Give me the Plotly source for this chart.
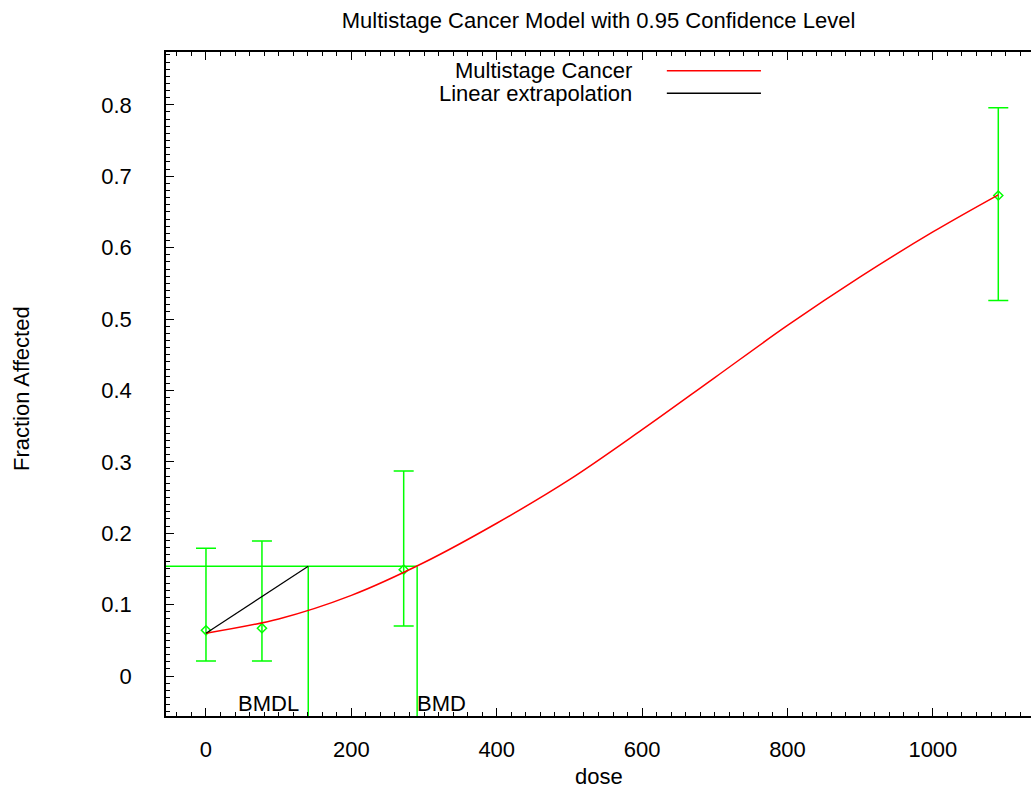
import plotly.graph_objects as go

# ---- data ----
dose_obs = [0, 77, 272, 1090]
frac_obs = [0.064, 0.067, 0.149, 0.673]
ci_lower = [0.021, 0.021, 0.070, 0.526]
ci_upper = [0.179, 0.189, 0.287, 0.796]

model_dose = [0, 100, 200, 300, 400, 500, 600, 700, 800, 900, 1000, 1090]
model_frac = [0.060, 0.080, 0.113, 0.159, 0.214, 0.275, 0.345, 0.418, 0.491, 0.559, 0.622, 0.674]

bmd = 290.5
bmdl = 140.7
bmr_level = 0.1536

x_range = [-55, 1135]
y_range = [-0.056, 0.874]

y_ticks = [0, 0.1, 0.2, 0.3, 0.4, 0.5, 0.6, 0.7, 0.8]
y_tick_text = ["0", "0.1", "0.2", "0.3", "0.4", "0.5", "0.6", "0.7", "0.8"]
x_ticks = [0, 200, 400, 600, 800, 1000]

GREEN = "#00ff00"
FONT = "Liberation Sans, Arial, sans-serif"
FS = 22

fig = go.Figure()

# BMD / BMDL guide lines
fig.add_trace(go.Scatter(x=[x_range[0], bmd], y=[bmr_level, bmr_level], mode="lines",
                         line=dict(color=GREEN, width=1.5), showlegend=False, hoverinfo="skip"))
fig.add_trace(go.Scatter(x=[bmdl, bmdl], y=[bmr_level, y_range[0]], mode="lines",
                         line=dict(color=GREEN, width=1.5), showlegend=False, hoverinfo="skip"))
fig.add_trace(go.Scatter(x=[bmd, bmd], y=[bmr_level, y_range[0]], mode="lines",
                         line=dict(color=GREEN, width=1.5), showlegend=False, hoverinfo="skip"))

# observed data with confidence intervals
fig.add_trace(go.Scatter(
    x=dose_obs, y=frac_obs, mode="markers",
    marker=dict(symbol="diamond-open", size=7, color=GREEN, line=dict(width=1.5, color=GREEN)),
    error_y=dict(type="data", symmetric=False,
                 array=[u - f for u, f in zip(ci_upper, frac_obs)],
                 arrayminus=[f - l for l, f in zip(ci_lower, frac_obs)],
                 color=GREEN, thickness=1.5, width=10),
    showlegend=False))

# model curve
fig.add_trace(go.Scatter(x=model_dose, y=model_frac, mode="lines",
                         line=dict(color="#ff0000", width=1.5, shape="spline", smoothing=1.0),
                         showlegend=False))

# linear extrapolation
fig.add_trace(go.Scatter(x=[model_dose[0], bmdl], y=[model_frac[0], bmr_level], mode="lines",
                         line=dict(color="#000000", width=1.2), showlegend=False))

# BMD labels
fig.add_annotation(x=bmdl, y=-0.039, text="BMDL", showarrow=False, xanchor="right",
                   xshift=-7, font=dict(family=FONT, size=FS, color="black"))
fig.add_annotation(x=bmd, y=-0.039, text="BMD", showarrow=False, xanchor="left",
                   xshift=-2, font=dict(family=FONT, size=FS, color="black"))

# legend (text then sample line, gnuplot style)
legend_items = [("Multistage Cancer", "#ff0000", 0.9718), ("Linear extrapolation", "#000000", 0.9378)]
for label, col, yp in legend_items:
    fig.add_annotation(xref="paper", yref="paper", x=0.541, y=yp, text=label, showarrow=False,
                       xanchor="right", yanchor="middle", font=dict(family=FONT, size=FS, color="black"))
    fig.add_shape(type="line", xref="paper", yref="paper", x0=0.579, x1=0.6878, y0=yp, y1=yp,
                  line=dict(color=col, width=1.5))

# axis titles
fig.add_annotation(xref="paper", yref="paper", x=0.5, y=0, yshift=-60, text="dose", showarrow=False,
                   xanchor="center", yanchor="middle", font=dict(family=FONT, size=FS, color="black"))
fig.add_annotation(xref="paper", yref="paper", x=0, xshift=-145, y=0.5, yshift=-5, text="Fraction Affected",
                   showarrow=False, textangle=-90, xanchor="center", yanchor="middle",
                   font=dict(family=FONT, size=FS, color="black"))

fig.update_layout(
    width=1031, height=788,
    margin=dict(l=166, r=0, t=52, b=72),
    paper_bgcolor="white", plot_bgcolor="white",
    font=dict(family=FONT, size=FS, color="black"),
    title=dict(text="Multistage Cancer Model with 0.95 Confidence Level", x=0.5, xref="paper",
               xanchor="center", y=1 - 20 / 788, yanchor="middle", yref="container",
               font=dict(family=FONT, size=FS, color="black")),
    showlegend=False,
)

fig.update_xaxes(range=x_range, tickvals=x_ticks, ticks="inside", ticklen=8, tickwidth=1.2,
                 tickcolor="black", showline=True, linecolor="black", linewidth=1.5, mirror="ticks",
                 showgrid=False, zeroline=False, ticklabelstandoff=13,
                 minor=dict(dtick=20, ticks="inside", ticklen=4, tickwidth=1, tickcolor="black", showgrid=False))
fig.update_yaxes(range=y_range, tickvals=y_ticks, ticktext=y_tick_text, ticks="inside", ticklen=8,
                 tickwidth=1.2, tickcolor="black", showline=True, linecolor="black", linewidth=1.5,
                 mirror=False, showgrid=False, zeroline=False, ticklabelstandoff=28,
                 minor=dict(dtick=0.01, ticks="inside", ticklen=4, tickwidth=1, tickcolor="black", showgrid=False))

fig.write_html("out.html")
